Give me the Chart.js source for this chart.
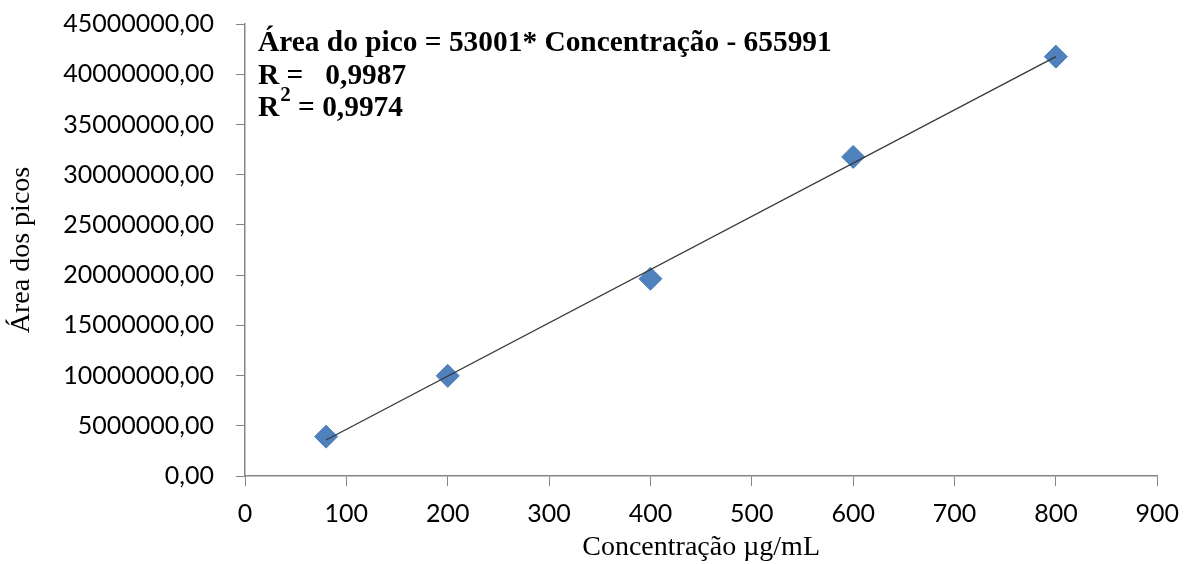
<!DOCTYPE html>
<html>
<head>
<meta charset="utf-8">
<script src="https://cdn.jsdelivr.net/npm/chart.js@4.4.0/dist/chart.umd.min.js"></script>
<style>
  html, body { margin: 0; padding: 0; background: #fff; }
  #wrap { width: 1192px; height: 564px; }
</style>
</head>
<body>
<div id="wrap"><canvas id="myChart" width="1192" height="564"></canvas></div>
<script>
// concentracao (ug/mL) e area dos picos
const concentration = [80, 200, 400, 600, 800]
const peak_area = [3920000, 9970000, 19640000, 31770000, 41750000]

// linha de tendencia (pontas)
const trend_x = [80, 800]
const trend_y = [3584000, 41745000]

const equation_lines = ['Área do pico = 53001* Concentração - 655991', 'R =   0,9987', '= 0,9974']

const AXIS_COLOR = '#868686'

function to_points(xs, ys) {
    return xs.map((x, i) => ({ x: x, y: ys[i] }))
}

const equation_plugin = {
    id: 'equation',
    afterDraw(chart) {
        const ctx = chart.ctx
        ctx.save()
        ctx.fillStyle = '#000'
        ctx.textBaseline = 'alphabetic'
        ctx.font = 'bold 29.4px "Liberation Serif"'
        ctx.fillText(equation_lines[0], 258, 51)
        ctx.fillText(equation_lines[1], 258, 84)
        ctx.fillText('R', 258, 116)
        let w = ctx.measureText('R').width
        ctx.font = 'bold 21px "Liberation Serif"'
        ctx.fillText('2', 258 + w + 1, 101)
        let w2 = ctx.measureText('2').width
        ctx.font = 'bold 29.4px "Liberation Serif"'
        ctx.fillText(' ' + equation_lines[2], 258 + w + w2 + 1, 116)
        ctx.restore()
    }
}

let data = {
    datasets: [{
        type: 'line',
        label: 'Tendência',
        data: to_points(trend_x, trend_y),
        borderColor: '#3a3a3a',
        borderWidth: 1.4,
        pointRadius: 0,
        fill: false,
        order: 0
    }, {
        type: 'scatter',
        label: 'Área dos picos',
        data: to_points(concentration, peak_area),
        pointStyle: 'rectRot',
        pointRadius: 11.5,
        backgroundColor: '#4f81bd',
        borderColor: '#4a7ebb',
        borderWidth: 1,
        order: 1
    }]
}

let config = {
    type: 'scatter',
    data: data,
    plugins: [equation_plugin],
    options: {
        responsive: false,
        animation: false,
        layout: { padding: { top: 24, right: 27, left: 0, bottom: 0 } },
        plugins: {
            legend: { display: false },
            tooltip: { enabled: false }
        },
        scales: {
            x: {
                type: 'linear',
                min: 0,
                max: 900,
                afterFit: s => { s.height = 88 },
                ticks: {
                    stepSize: 100,
                    padding: 13,
                    color: '#000',
                    font: { family: 'Lato', size: 25 }
                },
                grid: {
                    drawOnChartArea: false,
                    drawTicks: true,
                    tickLength: 10,
                    color: AXIS_COLOR
                },
                border: { display: true, color: AXIS_COLOR, width: 1.5 },
                title: {
                    display: true,
                    text: 'Concentração µg/mL',
                    color: '#000',
                    font: { family: 'Liberation Serif', size: 28 },
                    padding: { top: 0, bottom: 0 }
                }
            },
            y: {
                type: 'linear',
                min: 0,
                max: 45000000,
                afterFit: s => {
                    s.width = 245
                    // the label gap should not push the plot down
                    s.paddingTop = 0
                    s.paddingBottom = 0
                },
                ticks: {
                    stepSize: 5000000,
                    padding: 22,
                    color: '#000',
                    font: { family: 'Lato', size: 25 },
                    callback: v => v + ',00'
                },
                grid: {
                    drawOnChartArea: false,
                    drawTicks: true,
                    tickLength: 9,
                    color: AXIS_COLOR
                },
                border: { display: true, color: AXIS_COLOR, width: 1.5 },
                title: {
                    display: true,
                    text: 'Área dos picos',
                    color: '#000',
                    font: { family: 'Liberation Serif', size: 28 },
                    padding: { top: 5, bottom: 0 }
                }
            }
        }
    }
}

let myChart = new Chart(document.getElementById('myChart'), config)
</script>
</body>
</html>
